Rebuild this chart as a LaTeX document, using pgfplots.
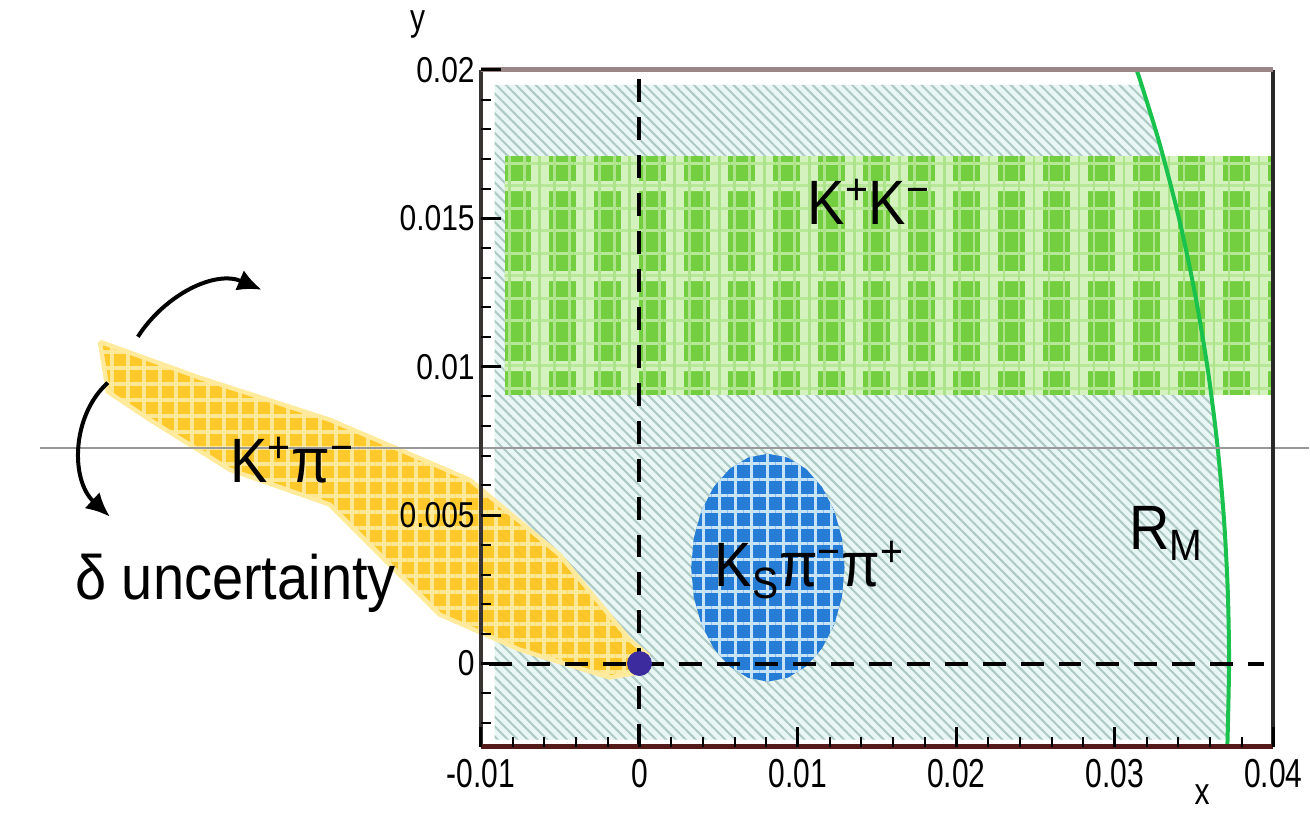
\documentclass[border=0pt]{standalone}
\usepackage{fontspec}
\setmainfont{Liberation Sans}
\usepackage{pgfplots}
\pgfplotsset{compat=1.18}
\usetikzlibrary{patterns,patterns.meta,arrows.meta}
\definecolor{hatchbg}{rgb}{0.91,0.965,0.955}
\definecolor{hatchln}{rgb}{0.68,0.79,0.77}
\definecolor{bandgreen}{rgb}{0.45,0.81,0.25}
\definecolor{bandlight}{rgb}{0.83,0.95,0.74}
\definecolor{circgreen}{rgb}{0.10,0.76,0.30}
\definecolor{ellblue}{rgb}{0.15,0.49,0.84}
\definecolor{elllight}{rgb}{0.78,0.89,0.98}
\definecolor{yelbase}{rgb}{1.00,0.77,0.10}
\definecolor{yellight}{rgb}{1.00,0.92,0.62}
\definecolor{dotcol}{rgb}{0.23,0.17,0.62}
\newcommand{\xs}[1]{\scalebox{1}[1.35]{#1}}
\newcommand{\ys}[1]{\scalebox{1}[1.2]{#1}}
\newcommand{\vs}[1]{\scalebox{1}[1.12]{#1}}
\newcommand{\tickfont}{\fontsize{15}{18}\selectfont}
\newcommand{\bigfont}{\fontsize{28}{32}\selectfont}
\begin{document}
\begin{tikzpicture}
\begin{axis}[
  scale only axis, width=396.5pt, height=338.6pt,
  xmin=-0.01, xmax=0.04, ymin=-0.0028, ymax=0.02,
  clip=false, axis on top,
  axis line style={draw=none},
  tick pos=left, tick align=inside,
  scaled ticks=false,
  xtick={-0.01,0,0.01,0.02,0.03,0.04},
  xticklabels={\xs{-0.01},\xs{0},\xs{0.01},\xs{0.02},\xs{0.03},\xs{0.04}},
  ytick={0,0.005,0.01,0.015,0.02},
  yticklabels={\ys{0},\ys{0.005},\ys{0.01},\ys{0.015},\ys{0.02}},
  minor xtick={-0.008,-0.006,-0.004,-0.002,0.002,0.004,0.006,0.008,0.012,0.014,0.016,0.018,0.022,0.024,0.026,0.028,0.032,0.034,0.036,0.038},
  minor ytick={-0.002,-0.001,0.001,0.002,0.003,0.004,0.006,0.007,0.008,0.009,0.011,0.012,0.013,0.014,0.016,0.017,0.018,0.019},
  major tick length=10pt, minor tick length=5pt,
  every major tick/.append style={line width=1.5pt, black},
  every minor tick/.append style={line width=1pt, black},
  xticklabel style={font=\tickfont, anchor=north, inner sep=0pt, yshift=-6pt},
  yticklabel style={font=\tickfont, anchor=east, inner sep=0pt, xshift=-3pt},
]
% bounding frame of the whole picture
\path (axis cs:-0.04035,0.022357) rectangle (axis cs:0.042245,-0.005118);

% hatched allowed region inside R_M
\addplot[draw=none, fill=hatchbg,
  postaction={pattern color=hatchln, pattern={Lines[angle=-45,distance=3.5pt,line width=1pt]}}]
  coordinates {(-0.00914,-0.00256) (0.037112,-0.00256) (0.0372,0) (0.037116,0.0025) (0.036862,0.005) (0.036436,0.0075) (0.035831,0.01) (0.035037,0.0125) (0.034042,0.015) (0.032827,0.0175) (0.031680,0.0195) (-0.00914,0.0195)};

% K+K- band
\addplot[draw=none, fill=bandgreen,
  postaction={pattern color=bandlight, pattern={Lines[angle=90,distance=22.5pt,line width=9pt]}},
  postaction={pattern color=bandlight, pattern={Lines[angle=0,distance=45pt,line width=5pt]}},
  postaction={pattern color=bandlight!70!bandgreen, pattern={Lines[angle=0,distance=11.25pt,line width=1.5pt]}},
  postaction={pattern color=bandlight!60!bandgreen, pattern={Lines[angle=90,distance=7.5pt,line width=1.2pt]}}]
  coordinates {(-0.00851,0.00906) (0.04,0.00906) (0.04,0.0171) (-0.00851,0.0171)};

% R_M circle
\addplot[color=circgreen, line width=2pt, smooth]
  coordinates {(0.037094,-0.0028) (0.0372,0) (0.037116,0.0025) (0.036862,0.005) (0.036436,0.0075) (0.035831,0.01) (0.035037,0.0125) (0.034042,0.015) (0.032827,0.0175) (0.031680,0.0195) (0.031366,0.02)};

% K_S pi pi ellipse
\addplot[draw=none, fill=ellblue,
  postaction={pattern color=elllight, pattern={Lines[angle=0,distance=8pt,line width=1.6pt]}},
  postaction={pattern color=elllight, pattern={Lines[angle=90,distance=8pt,line width=1.6pt]}}]
  coordinates {(0.01294,0.00323) (0.012775,0.004224) (0.012291,0.00515) (0.011522,0.005945) (0.01052,0.006555) (0.009353,0.006939) (0.0081,0.00707) (0.006847,0.006939) (0.00568,0.006555) (0.004678,0.005945) (0.003909,0.00515) (0.003425,0.004224) (0.00326,0.00323) (0.003425,0.002236) (0.003909,0.00131) (0.004678,0.000515) (0.00568,-0.000095) (0.006847,-0.000479) (0.0081,-0.00061) (0.009353,-0.000479) (0.01052,-0.000095) (0.011522,0.000515) (0.012291,0.00131) (0.012775,0.002236)};

% K+pi- band
\addplot[draw=yellight, line width=2pt, fill=yelbase, opacity=0.92,
  postaction={pattern color=yellight, pattern={Lines[angle=0,distance=8pt,line width=2pt]}},
  postaction={pattern color=yellight, pattern={Lines[angle=90,distance=8pt,line width=2pt]}}]
  coordinates {(-0.034048,0.010842) (-0.027743,0.009630) (-0.019546,0.008215) (-0.010719,0.006195) (-0.005044,0.003670) (-0.000631,0.000808) (0.000504,0.000303) (0.000315,-0.000269) (-0.001892,-0.000471) (-0.007566,0.000471) (-0.012610,0.001650) (-0.019546,0.005354) (-0.025851,0.006532) (-0.030895,0.008215) (-0.033544,0.009158) (-0.034048,0.010842)};

% dashed zero lines
\addplot[black, line width=2pt, dash pattern=on 11.5pt off 7.5pt]
  coordinates {(0,0.0197) (0,-0.0027)};
\addplot[black, line width=2pt, dash pattern=on 11.5pt off 7.5pt]
  coordinates {(-0.0095,0) (0.0394,0)};

% origin point
\addplot[only marks, mark=*, mark size=6pt, color=dotcol] coordinates {(0,0)};

% grey horizontal rule
\addplot[color={rgb,1:red,0.6;green,0.6;blue,0.6}, line width=1pt]
  coordinates {(-0.03783,0.007273) (0.042245,0.007273)};

% axis frame edges
\draw[line width=2pt, color={rgb,1:red,0.22;green,0.20;blue,0.20}] (rel axis cs:0,0) -- (rel axis cs:0,1);
\draw[line width=2pt, color={rgb,1:red,0.16;green,0.16;blue,0.16}] (rel axis cs:1,0) -- (rel axis cs:1,1);
\draw[line width=2.5pt, color={rgb,1:red,0.60;green,0.53;blue,0.53}] (rel axis cs:0,1) -- (rel axis cs:1,1);
\draw[line width=2.5pt, color={rgb,1:red,0.33;green,0.10;blue,0.10}] (rel axis cs:0,0) -- (rel axis cs:1,0);

% rotation arrows
\draw[line width=2pt, -{Latex[length=12pt,width=11pt]}]
  (axis cs:-0.031652,0.011010) .. controls (axis cs:-0.029950,0.012424) and (axis cs:-0.026797,0.013266) .. (axis cs:-0.023834,0.012593);
\draw[line width=2pt, -{Latex[length=12pt,width=11pt]}]
  (axis cs:-0.033544,0.009461) .. controls (axis cs:-0.035813,0.008384) and (axis cs:-0.035939,0.006195) .. (axis cs:-0.033417,0.004949);

% labels
\node[anchor=base west, inner sep=0pt, font=\bigfont] at (axis cs:0.01059,0.01478) {\vs{K\textsuperscript{+}K\textsuperscript{−}}};
\node[anchor=base west, inner sep=0pt, font=\bigfont] at (axis cs:-0.02585,0.006094) {\vs{K\textsuperscript{+}π\textsuperscript{−}}};
\node[anchor=base west, inner sep=0pt, font=\bigfont] at (axis cs:0.004729,0.002593) {\vs{K\textsubscript{S}π\textsuperscript{−}π\textsuperscript{+}}};
\node[anchor=base west, inner sep=0pt, font=\bigfont] at (axis cs:-0.035624,0.002155) {\vs{δ uncertainty}};
\node[anchor=base west, inner sep=0pt, font=\bigfont] at (axis cs:0.030895,0.003838) {\vs{R\textsubscript{M}}};
\node[anchor=center, inner sep=0pt, font=\fontsize{15}{18}\selectfont] at (axis cs:0.0355,-0.00440) {\scalebox{1}[1.25]{x}};
\node[anchor=center, inner sep=0pt, font=\fontsize{15}{18}\selectfont] at (axis cs:-0.0140,0.02152) {\scalebox{1}[1.25]{y}};
\end{axis}
\end{tikzpicture}
\end{document}
